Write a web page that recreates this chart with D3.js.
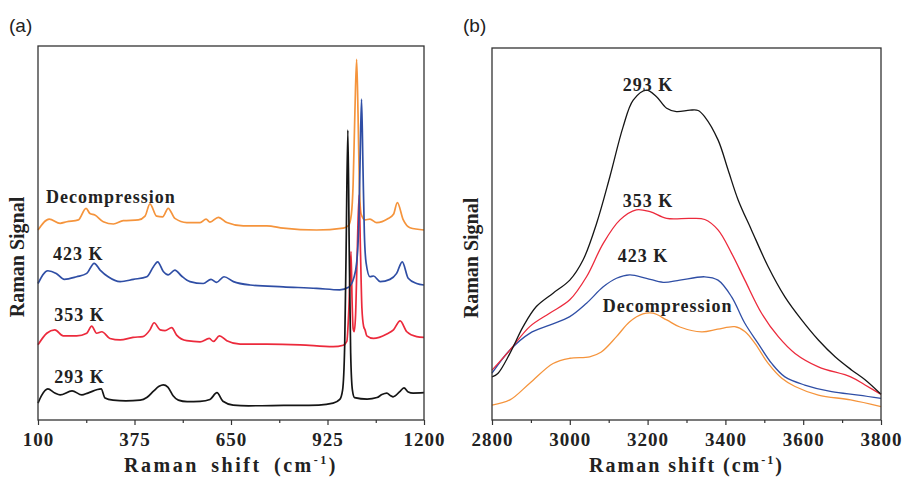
<!DOCTYPE html>
<html>
<head>
<meta charset="utf-8">
<script src="https://cdn.jsdelivr.net/npm/d3@7"></script>
<style>
  body { margin: 0; background: #fff; }
  svg { display: block; }
  .tick text { font-family: "Liberation Serif", "Times New Roman", serif; font-weight: bold; font-size: 19px; letter-spacing: 1px; fill: #222; }
  .tick line { stroke: #333; stroke-width: 1.2; }
  .lbl { font-family: "Liberation Serif", "Times New Roman", serif; font-weight: bold; fill: #222; }
  .panel { font-family: "Liberation Sans", Arial, sans-serif; font-size: 19px; fill: #222; }
</style>
</head>
<body>
<svg width="902" height="478"></svg>
<script>
"use strict";

// ---- panel (a): low-frequency spectra (Raman shift cm-1, signal a.u.)
const low293 = [[100,4.5],[110,6.5],[128,8.3],[148,7.2],[163,6.7],[197,7.8],[225,6.7],[242,7.2],[280,8.3],[291,5.9],[314,5.3],[350,5.1],[391,5.3],[410,6.0],[430,7.8],[445,9.0],[457,9.4],[470,8.8],[485,6.5],[500,5.3],[525,4.9],[562,5.0],[590,5.5],[610,7.3],[627,5.0],[656,4.0],[700,3.8],[800,3.9],[900,4.0],[941,4.5],[960,5.5],[968,8],[974,20],[978,45],[983,77.5],[987,45],[991,18],[996,8],[1002,6.0],[1038,5.6],[1066,6.0],[1080,6.8],[1094,7.2],[1105,6.5],[1112,6.2],[1130,7.5],[1143,8.6],[1155,7.5],[1169,7.2],[1200,7.3]];

const low353 = [[100,20.1],[125,23.2],[148,24.1],[172,22.5],[210,22.5],[239,23.2],[253,25.1],[267,23.2],[282,23.6],[305,21.8],[334,21.4],[371,22.1],[399,22.3],[419,24.1],[431,26.0],[448,24.1],[462,23.9],[481,24.7],[495,22.7],[524,21.2],[562,20.9],[588,21.8],[600,21.0],[617,22.5],[638,21.2],[676,20.3],[752,20.3],[847,20.1],[941,19.6],[970,20.0],[980,21],[986,30],[992,45],[995,32],[998,24.5],[1001,23.6],[1005,28],[1009,42],[1015,60.2],[1019,45],[1023,30],[1028,25],[1032,24.1],[1037,22.5],[1056,21.8],[1094,23.0],[1113,24.1],[1132,26.5],[1151,23.6],[1179,22.3],[1200,22.1]];

const low423 = [[100,36.5],[128,39.9],[152,39.2],[175,37.6],[210,38.3],[239,39.2],[260,41.9],[277,40.1],[300,38.3],[334,37.0],[372,37.6],[410,38.3],[429,41.0],[441,42.3],[457,39.7],[471,38.8],[490,40.1],[509,38.5],[533,37.0],[571,36.5],[593,37.6],[609,36.8],[630,38.3],[657,37.0],[704,36.1],[799,35.6],[894,35.2],[960,34.8],[985,35.5],[1000,38],[1008,42],[1014,52],[1018,70],[1022,85.8],[1026,68],[1030,50],[1035,42],[1046,38.3],[1056,38.5],[1075,37.0],[1103,37.6],[1122,39.2],[1138,42.3],[1155,37.9],[1179,36.5],[1200,36.1]];

const lowDecomp = [[100,50.8],[132,53.7],[163,52.6],[182,53.0],[215,53.5],[237,56.6],[248,55.2],[262,54.8],[286,53.0],[315,52.4],[343,53.3],[386,53.5],[405,54.5],[419,57.8],[438,54.5],[455,54.3],[471,56.6],[490,53.9],[524,52.8],[562,52.8],[579,53.7],[590,52.9],[614,54.2],[638,52.8],[685,51.9],[752,51.9],[799,51.3],[894,50.8],[970,51.3],[985,52],[993,55],[998,63],[1003,82],[1008,96.4],[1012,82],[1016,62],[1021,55],[1032,53.5],[1046,53.7],[1065,52.8],[1098,53.9],[1113,55],[1124,58.1],[1141,53.5],[1160,51.4],[1200,50.8]];

const lowTicks = [100, 375, 650, 925, 1200];
const lowMinor = [237.5, 512.5, 787.5, 1062.5];

// ---- panel (b): O-H stretching region
const high293 = [[2800,11.6],[2815,12.5],[2846,17.9],[2880,25.1],[2914,30.5],[2957,34.1],[3000,37.6],[3034,43.0],[3069,52.9],[3103,65.4],[3137,78.8],[3163,86.0],[3197,88.7],[3223,86.9],[3249,83.8],[3274,82.9],[3309,83.3],[3330,83.2],[3347,81.5],[3381,75.3],[3407,67.2],[3433,59.1],[3467,51.1],[3510,41.2],[3553,33.1],[3596,26.9],[3639,21.5],[3682,17.0],[3725,13.4],[3759,10.8],[3800,6.9]];

const high353 = [[2800,13.4],[2846,18.8],[2897,25.1],[2948,28.7],[3000,32.3],[3043,38.5],[3086,47.5],[3129,53.8],[3171,56.5],[3206,56.0],[3249,54.2],[3309,54.2],[3347,53.9],[3381,51.1],[3416,44.8],[3450,37.6],[3493,28.7],[3536,22.4],[3579,17.9],[3639,14.3],[3722,11.6],[3759,9.4],[3800,6.9]];

const high423 = [[2800,12.6],[2846,18.8],[2897,23.3],[2948,25.5],[3000,27.8],[3043,31.4],[3086,35.8],[3120,38.1],[3154,39.0],[3197,38.1],[3240,37.0],[3283,37.6],[3347,38.5],[3381,37.6],[3416,33.1],[3450,26.0],[3484,20.6],[3519,15.2],[3553,11.6],[3604,9.4],[3673,7.6],[3742,6.7],[3800,5.8]];

const highDecomp = [[2800,4.0],[2846,5.4],[2897,9.9],[2957,15.2],[3000,16.6],[3051,17.0],[3080,18.2],[3120,22.4],[3154,26.4],[3188,28.5],[3214,28.7],[3249,26.9],[3283,25.0],[3339,23.7],[3380,24.4],[3424,25.1],[3450,23.8],[3476,20.6],[3510,15.2],[3545,11.2],[3579,9.0],[3639,6.7],[3722,5.4],[3800,3.6]];

const highTicks = [2800, 3000, 3200, 3400, 3600, 3800];
const highMinor = [2900, 3100, 3300, 3500, 3700];

const colors = { "293 K": "#151515", "353 K": "#ec2a3c", "423 K": "#2f4ea5", "Decompression": "#f5943c" };

const svg = d3.select("svg");

function drawPanel(opt) {
  const x = d3.scaleLinear().domain(opt.xDomain).range([opt.left, opt.right]);
  const y = d3.scaleLinear().domain([0, 100]).range([opt.bottom, opt.top]);
  const g = svg.append("g");

  // minor ticks
  g.append("g")
    .attr("transform", `translate(0,${opt.bottom})`)
    .call(d3.axisBottom(x).tickValues(opt.minor).tickSize(3).tickFormat(""))
    .call(a => a.select(".domain").remove());

  // major ticks + labels
  g.append("g")
    .attr("transform", `translate(0,${opt.bottom})`)
    .call(d3.axisBottom(x).tickValues(opt.ticks).tickSize(5).tickPadding(8).tickFormat(d3.format("d")))
    .call(a => a.select(".domain").remove());

  const line = d3.line()
    .x(d => x(d[0]))
    .y(d => y(d[1]))
    .curve(opt.curve);

  opt.series.forEach(s => {
    g.append("path")
      .datum(s.data)
      .attr("fill", "none")
      .attr("stroke", colors[s.name])
      .attr("stroke-width", opt.lw)
      .attr("stroke-linejoin", "round")
      .attr("d", line);
  });

  // frame
  g.append("rect")
    .attr("x", opt.left).attr("y", opt.top)
    .attr("width", opt.right - opt.left).attr("height", opt.bottom - opt.top)
    .attr("fill", "none").attr("stroke", "#333").attr("stroke-width", 1.3);

  opt.labels.forEach(l => {
    g.append("text")
      .attr("class", "lbl")
      .attr("x", x(l[1])).attr("y", y(l[2]))
      .style("font-size", "18px")
      .style("letter-spacing", "1px")
      .text(l[0]);
  });

  // x title
  const t = g.append("text")
    .attr("class", "lbl")
    .attr("x", (opt.left + opt.right) / 2)
    .attr("y", 472)
    .attr("text-anchor", "middle")
    .style("font-size", "20px")
    .style("letter-spacing", opt.titleSpacing + "px")
    .style("word-spacing", opt.wordSpacing + "px");
  t.append("tspan").text("Raman shift (cm");
  t.append("tspan").attr("dy", -8).style("font-size", "12px").text("-1");
  t.append("tspan").attr("dy", 8).text(")");

  // y title
  g.append("text")
    .attr("class", "lbl")
    .attr("transform", `translate(${opt.left - 14},${(opt.top + opt.bottom) / 2 + 24}) rotate(-90)`)
    .attr("text-anchor", "middle")
    .style("font-size", "20px")
    .text("Raman Signal");

  g.append("text")
    .attr("class", "panel")
    .attr("x", opt.left - 29)
    .attr("y", 32)
    .text(opt.tag);
}

drawPanel({
  tag: "(a)",
  left: 38, right: 424, top: 46, bottom: 420,
  xDomain: [100, 1200], ticks: lowTicks, minor: lowMinor, lw: 1.7,
  titleSpacing: 2.5, wordSpacing: 5, curve: d3.curveMonotoneX,
  series: [
    { name: "Decompression", data: lowDecomp },
    { name: "353 K", data: low353 },
    { name: "423 K", data: low423 },
    { name: "293 K", data: low293 }
  ],
  labels: [["Decompression", 123, 58.0], ["423 K", 143, 42.8], ["353 K", 146, 26.5], ["293 K", 146, 9.9]]
});

drawPanel({
  tag: "(b)",
  left: 492, right: 881, top: 48, bottom: 420,
  xDomain: [2800, 3800], ticks: highTicks, minor: highMinor, lw: 1.3,
  titleSpacing: 2, wordSpacing: 0, curve: d3.curveCatmullRom.alpha(0.5),
  series: [
    { name: "Decompression", data: highDecomp },
    { name: "423 K", data: high423 },
    { name: "353 K", data: high353 },
    { name: "293 K", data: high293 }
  ],
  labels: [["293 K", 3136, 88.4], ["353 K", 3136, 57.3], ["423 K", 3123, 42.5], ["Decompression", 3085, 29.0]]
});
</script>
</body>
</html>
